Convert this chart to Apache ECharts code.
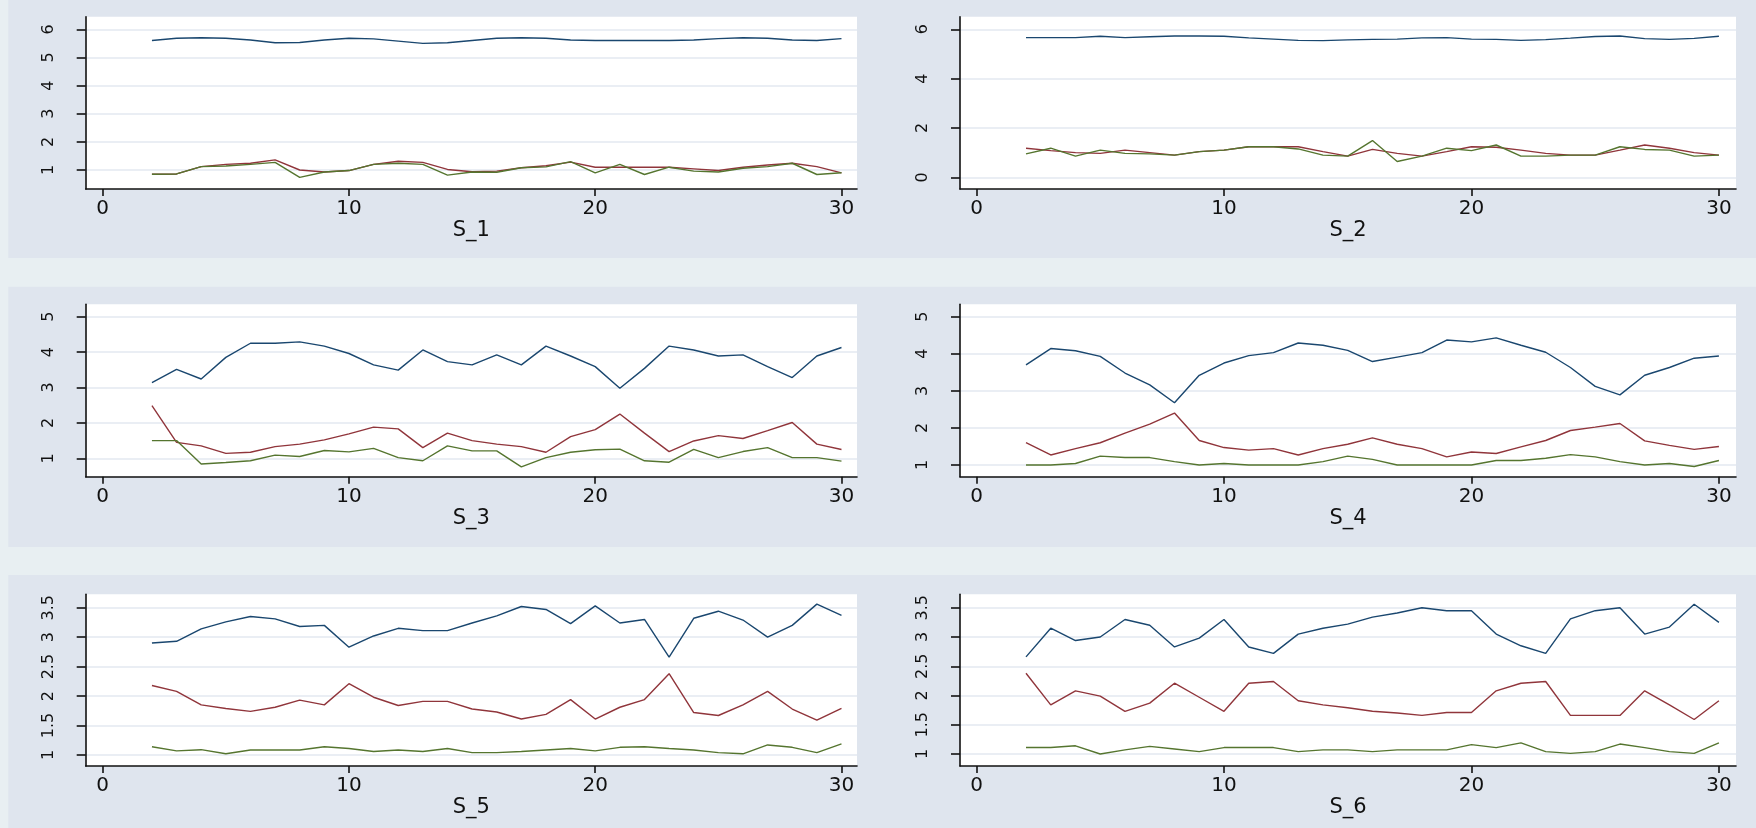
<!DOCTYPE html>
<html>
<head>
<meta charset="utf-8">
<title>S_1 – S_6</title>
<script src="https://cdn.jsdelivr.net/npm/echarts@6/dist/echarts.min.js"></script>
<style>
  html, body { margin: 0; padding: 0; background: #e8eff2; }
  #chart { width: 1756px; height: 828px; }
</style>
</head>
<body>
<div id="chart"></div>
<script>
// Time index shared by every panel
const periods = [2, 3, 4, 5, 6, 7, 8, 9, 10, 11, 12, 13, 14, 15, 16, 17, 18, 19, 20, 21, 22, 23, 24, 25, 26, 27, 28, 29, 30];
const xTicks = [0, 10, 20, 30];

// S_1
const s1Blue  = [5.60, 5.68, 5.70, 5.68, 5.62, 5.52, 5.53, 5.62, 5.68, 5.66, 5.58, 5.50, 5.52, 5.60, 5.68, 5.70, 5.68, 5.62, 5.60, 5.60, 5.60, 5.60, 5.62, 5.67, 5.70, 5.68, 5.62, 5.60, 5.67];
const s1Red   = [0.85, 0.86, 1.12, 1.20, 1.24, 1.36, 1.00, 0.93, 0.98, 1.20, 1.31, 1.27, 1.02, 0.94, 0.96, 1.08, 1.15, 1.28, 1.10, 1.10, 1.10, 1.10, 1.04, 0.98, 1.10, 1.18, 1.24, 1.12, 0.90];
const s1Green = [0.85, 0.86, 1.12, 1.14, 1.20, 1.27, 0.74, 0.93, 0.98, 1.20, 1.24, 1.20, 0.82, 0.93, 0.92, 1.08, 1.11, 1.30, 0.90, 1.20, 0.84, 1.10, 0.96, 0.93, 1.06, 1.12, 1.24, 0.84, 0.90];
const s1Ticks = [1, 2, 3, 4, 5, 6];

// S_2
const s2Blue  = [5.66, 5.66, 5.66, 5.72, 5.66, 5.70, 5.73, 5.73, 5.72, 5.65, 5.60, 5.55, 5.54, 5.57, 5.59, 5.60, 5.65, 5.66, 5.60, 5.59, 5.55, 5.58, 5.64, 5.71, 5.73, 5.62, 5.59, 5.63, 5.72];
const s2Red   = [1.18, 1.08, 1.00, 0.97, 1.10, 1.00, 0.90, 1.04, 1.10, 1.24, 1.24, 1.24, 1.04, 0.86, 1.13, 0.97, 0.86, 1.04, 1.24, 1.22, 1.10, 0.97, 0.90, 0.90, 1.10, 1.31, 1.18, 1.00, 0.90];
const s2Green = [0.95, 1.18, 0.86, 1.10, 0.97, 0.95, 0.90, 1.04, 1.10, 1.24, 1.24, 1.15, 0.90, 0.86, 1.49, 0.64, 0.86, 1.18, 1.08, 1.31, 0.86, 0.86, 0.90, 0.90, 1.24, 1.13, 1.10, 0.86, 0.90];
const s2Ticks = [0, 2, 4, 6];

// S_3
const s3Blue  = [3.14, 3.51, 3.24, 3.85, 4.25, 4.25, 4.29, 4.17, 3.96, 3.64, 3.49, 4.06, 3.73, 3.64, 3.92, 3.64, 4.17, 3.89, 3.59, 2.98, 3.54, 4.17, 4.06, 3.89, 3.92, 3.59, 3.28, 3.89, 4.13];
const s3Red   = [2.49, 1.45, 1.35, 1.14, 1.17, 1.33, 1.40, 1.52, 1.69, 1.88, 1.83, 1.30, 1.71, 1.50, 1.40, 1.33, 1.17, 1.61, 1.81, 2.25, 1.71, 1.19, 1.49, 1.64, 1.56, 1.78, 2.01, 1.40, 1.25];
const s3Green = [1.50, 1.50, 0.84, 0.88, 0.93, 1.09, 1.05, 1.22, 1.18, 1.28, 1.02, 0.93, 1.35, 1.21, 1.21, 0.76, 1.02, 1.17, 1.24, 1.26, 0.93, 0.89, 1.25, 1.02, 1.19, 1.30, 1.02, 1.02, 0.92];
const s3Ticks = [1, 2, 3, 4, 5];

// S_4
const s4Blue  = [3.70, 4.14, 4.08, 3.93, 3.48, 3.16, 2.68, 3.42, 3.75, 3.95, 4.03, 4.29, 4.23, 4.09, 3.79, 3.91, 4.03, 4.37, 4.32, 4.43, 4.23, 4.04, 3.63, 3.12, 2.89, 3.42, 3.63, 3.88, 3.94];
const s4Red   = [1.60, 1.27, 1.44, 1.60, 1.86, 2.10, 2.40, 1.66, 1.47, 1.40, 1.44, 1.27, 1.44, 1.56, 1.73, 1.56, 1.44, 1.22, 1.35, 1.31, 1.49, 1.66, 1.93, 2.02, 2.12, 1.65, 1.53, 1.42, 1.50];
const s4Green = [1.00, 1.00, 1.04, 1.24, 1.20, 1.20, 1.09, 1.00, 1.04, 1.00, 1.00, 1.00, 1.09, 1.24, 1.15, 1.00, 1.00, 1.00, 1.00, 1.12, 1.12, 1.18, 1.28, 1.22, 1.09, 1.00, 1.04, 0.96, 1.12];
const s4Ticks = [1, 2, 3, 4, 5];

// S_5
const s5Blue  = [2.90, 2.93, 3.14, 3.26, 3.35, 3.31, 3.18, 3.20, 2.83, 3.02, 3.15, 3.11, 3.11, 3.24, 3.36, 3.52, 3.47, 3.23, 3.53, 3.24, 3.30, 2.66, 3.32, 3.44, 3.29, 3.00, 3.20, 3.56, 3.37];
const s5Red   = [2.18, 2.08, 1.85, 1.79, 1.74, 1.81, 1.93, 1.85, 2.21, 1.98, 1.84, 1.91, 1.91, 1.78, 1.73, 1.61, 1.69, 1.94, 1.61, 1.81, 1.94, 2.38, 1.72, 1.67, 1.85, 2.08, 1.78, 1.59, 1.79];
const s5Green = [1.14, 1.07, 1.09, 1.02, 1.085, 1.085, 1.085, 1.14, 1.11, 1.06, 1.085, 1.06, 1.11, 1.04, 1.04, 1.06, 1.085, 1.11, 1.07, 1.13, 1.14, 1.11, 1.085, 1.04, 1.02, 1.17, 1.13, 1.04, 1.19];
const s5Ticks = [1, 1.5, 2, 2.5, 3, 3.5];

// S_6
const s6Blue  = [2.66, 3.15, 2.94, 3.00, 3.30, 3.20, 2.83, 2.98, 3.30, 2.83, 2.72, 3.05, 3.15, 3.22, 3.34, 3.41, 3.50, 3.45, 3.45, 3.05, 2.85, 2.72, 3.31, 3.45, 3.50, 3.05, 3.17, 3.56, 3.25];
const s6Red   = [2.38, 1.84, 2.08, 1.99, 1.73, 1.87, 2.21, 1.97, 1.73, 2.21, 2.24, 1.91, 1.84, 1.79, 1.73, 1.70, 1.66, 1.71, 1.71, 2.08, 2.21, 2.24, 1.66, 1.66, 1.66, 2.08, 1.84, 1.59, 1.91];
const s6Green = [1.11, 1.11, 1.14, 1.00, 1.07, 1.13, 1.085, 1.04, 1.11, 1.11, 1.11, 1.04, 1.07, 1.07, 1.04, 1.07, 1.07, 1.07, 1.16, 1.11, 1.19, 1.04, 1.01, 1.04, 1.17, 1.11, 1.04, 1.01, 1.19];
const s6Ticks = [1, 1.5, 2, 2.5, 3, 3.5];

// Panel definitions: which data go where, and each y-axis extent
const panels = [
  { name: 'S_1', blue: s1Blue, red: s1Red, green: s1Green, ticks: s1Ticks, ymin: 0.325, ymax: 6.448, row: 0, col: 0 },
  { name: 'S_2', blue: s2Blue, red: s2Red, green: s2Green, ticks: s2Ticks, ymin: -0.474, ymax: 6.51, row: 0, col: 1 },
  { name: 'S_3', blue: s3Blue, red: s3Red, green: s3Green, ticks: s3Ticks, ymin: 0.48, ymax: 5.35, row: 1, col: 0 },
  { name: 'S_4', blue: s4Blue, red: s4Red, green: s4Green, ticks: s4Ticks, ymin: 0.684, ymax: 5.334, row: 1, col: 1 },
  { name: 'S_5', blue: s5Blue, red: s5Red, green: s5Green, ticks: s5Ticks, ymin: 0.813, ymax: 3.727, row: 2, col: 0 },
  { name: 'S_6', blue: s6Blue, red: s6Red, green: s6Green, ticks: s6Ticks, ymin: 0.795, ymax: 3.73, row: 2, col: 1 }
];

// Page geometry (pixels)
const cols = [
  { left: 85.7, width: 771.3, xmin: -0.69, xmax: 30.63 },
  { left: 960, width: 776, xmin: -0.667, xmax: 30.69 }
];
const rows = [
  { top: 16.7, height: 172.3 },
  { top: 304.3, height: 172.4 },
  { top: 594.3, height: 171.7 }
];
const bands = [
  { y: 0, h: 258 },
  { y: 286.7, h: 260.3 },
  { y: 575, h: 253 }
];

const INK = '#111111';
const FONT = 'DejaVu Sans';
const COLORS = { blue: '#1a476f', red: '#90353b', green: '#55752f' };

const grids = [], xAxes = [], yAxes = [], series = [];

panels.forEach((p, i) => {
  const c = cols[p.col], r = rows[p.row];
  grids.push({
    left: c.left, top: r.top, width: c.width, height: r.height,
    show: true, backgroundColor: '#ffffff', borderWidth: 0, containLabel: false
  });
  xAxes.push({
    type: 'value', gridIndex: i, min: c.xmin, max: c.xmax,
    axisLine: { onZero: false, lineStyle: { color: INK, width: 1.6 } },
    axisTick: { customValues: xTicks, length: 7, lineStyle: { color: INK, width: 1.6 } },
    axisLabel: { customValues: xTicks, margin: 10, fontSize: 20, fontFamily: FONT, color: INK },
    splitLine: { show: false },
    name: p.name, nameLocation: 'middle', nameGap: 25,
    nameTextStyle: { fontSize: 21, fontFamily: FONT, color: INK }
  });
  yAxes.push({
    type: 'value', gridIndex: i, min: p.ymin, max: p.ymax,
    axisLine: { show: true, onZero: false, lineStyle: { color: INK, width: 1.6 } },
    axisTick: { show: true, customValues: p.ticks, length: 9, lineStyle: { color: INK, width: 1.6 } },
    axisLabel: { customValues: p.ticks, rotate: 90, margin: 29, fontSize: 16, fontFamily: FONT, color: INK },
    splitLine: { show: true, lineStyle: { color: '#e3e8f1', width: 1.5 } }
  });
  ['blue', 'red', 'green'].forEach(key => {
    series.push({
      type: 'line', xAxisIndex: i, yAxisIndex: i,
      data: periods.map((t, k) => [t, p[key][k]]),
      symbol: 'none', silent: true,
      lineStyle: { color: COLORS[key], width: 1.4 },
      itemStyle: { color: COLORS[key] }
    });
  });
});

const chart = echarts.init(document.getElementById('chart'), null, { renderer: 'canvas' });
chart.setOption({
  animation: false,
  backgroundColor: '#e8eff2',
  graphic: bands.map(b => ({
    type: 'rect', silent: true, z: -10,
    shape: { x: 8.3, y: b.y, width: 1756 - 8.3, height: b.h },
    style: { fill: '#dfe5ee' }
  })),
  grid: grids,
  xAxis: xAxes,
  yAxis: yAxes,
  series: series
});
</script>
</body>
</html>
